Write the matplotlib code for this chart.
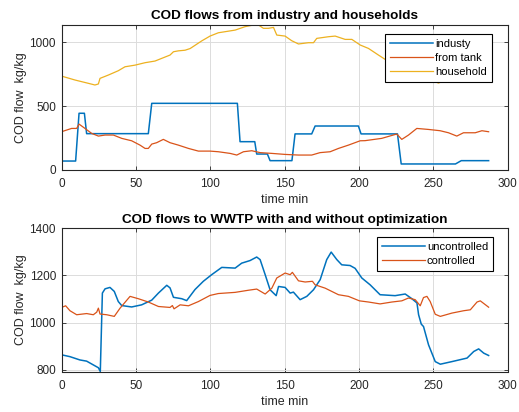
import matplotlib
matplotlib.use("Agg")
import matplotlib.pyplot as plt

plt.rcParams['font.family'] = ['Liberation Sans', 'DejaVu Sans']

# ---- top panel data ----
ind_t = [0, 9.5, 11.8, 15.4, 16.9, 58.4, 60.7, 118.3, 120.1, 130, 131.3, 138.5, 140.3,
         155, 157.1, 168.3, 170.6, 199.7, 201.5, 226, 228.5, 265, 268.9, 287.3]
ind_v = [68, 68, 443, 443, 283, 283, 521, 521, 220, 220, 123, 123, 71,
         71, 281, 281, 343, 343, 281, 281, 45, 45, 71, 71]

tank_t = [0, 6.8, 10.2, 11.8, 15.8, 20.3, 24.8, 29.3, 34.9, 40.5, 47.2, 52.8, 56.2, 58.4,
          60.7, 64, 68.5, 73, 78.6, 85.4, 92.1, 99.9, 105.5, 113.4, 117.9, 122.4, 128,
          133.6, 141.5, 150.4, 159.4, 168.3, 173.9, 180.7, 186.3, 193, 200.9, 204.2,
          215.4, 225.5, 228.9, 233.4, 239, 246.9, 254.7, 260.3, 265.9, 270.4, 278.3,
          282.8, 287.3]
tank_v = [298, 324, 324, 358, 324, 285, 264, 272, 272, 246, 227, 193, 167, 167,
          201, 212, 238, 212, 193, 167, 146, 146, 141, 128, 115, 141, 149,
          134, 128, 120, 115, 115, 134, 141, 167, 193, 227, 228,
          246, 280, 238, 272, 324, 316, 306, 290, 264, 290, 290,
          306, 298]

hh_t = [0, 9.1, 18.1, 22.5, 24.8, 25.9, 31.5, 38.2, 42.7, 49.5, 56.2, 62.9, 67.4, 73,
        75.3, 78.6, 83.1, 86.5, 94.3, 99.9, 105.5, 116.8, 123.5, 129.1, 132.5, 135.8,
        139.2, 142.6, 144.8, 150.4, 154.8, 159.4, 166.1, 169.5, 171.7, 179.6, 184.1,
        190.8, 195.3, 200.9, 206.5, 213.2, 217.7, 222.2, 235, 245, 253.6, 260, 270,
        280, 287.3]
hh_v = [735, 704, 678, 665, 673, 717, 743, 777, 808, 821, 840, 853, 874, 900,
        926, 933, 938, 951, 1011, 1049, 1075, 1096, 1123, 1136, 1136, 1110,
        1110, 1117, 1057, 1049, 1013, 987, 997, 997, 1031, 1044, 1049,
        1023, 1023, 979, 952, 900, 866, 866, 790, 720, 680, 715, 750,
        770, 785]

# ---- bottom panel data ----
unc_t = [0, 5.7, 12.4, 16.9, 21.4, 24.8, 26.1, 27.5, 29.3, 32.6, 35.5, 38.2, 40.5, 47.2,
         53.9, 60.7, 65.2, 70.8, 73, 75.3, 80.9, 84.2, 89.8, 95.4, 101, 107.8, 116.8,
         121.2, 126.8, 131.3, 133.6, 137, 140.3, 144.4, 146, 150.4, 153.8, 156, 160.5,
         165, 169.5, 174, 178.4, 181.4, 185.2, 188.5, 194.1, 197.5, 202, 207.6, 214.3,
         224.4, 231.2, 235.7, 239.1, 240.2, 242, 243.5, 246.9, 251.4, 254.8, 262.6,
         269.4, 272.8, 277.3, 280.6, 284, 287.3]
unc_v = [863, 855, 841, 836, 820, 808, 792, 1125, 1143, 1149, 1132, 1089, 1072, 1066,
         1075, 1095, 1125, 1158, 1147, 1107, 1101, 1093, 1140, 1175, 1203, 1234, 1231,
         1252, 1263, 1278, 1267, 1203, 1139, 1114, 1153, 1149, 1125, 1129, 1097,
         1111, 1139, 1182, 1267, 1299, 1267, 1245, 1242, 1230, 1189, 1160, 1118,
         1114, 1121, 1101, 1083, 1033, 993, 983, 905, 834, 823, 834,
         844, 849, 877, 888, 870, 860]

ctl_t = [0, 2.8, 5.7, 10.2, 16.9, 21.4, 23.7, 24.8, 25.9, 30.4, 35.5, 39.4, 46.1, 51.7,
         58.4, 65.2, 73, 74.6, 75.7, 79.8, 85.4, 92.1, 99.9, 105.5, 116.8, 125.7, 131.3,
         137, 141.5, 144.8, 150.4, 153.8, 155.3, 159.4, 163.9, 168.8, 170.6, 177.3,
         186.3, 193, 200.4, 206.5, 214.3, 222.2, 228.9, 233.4, 237.9, 241.3, 243.5,
         245.8, 248, 251.4, 254.8, 262.6, 270.5, 275, 279.5, 281.7, 287.3]
ctl_v = [1064, 1071, 1050, 1033, 1038, 1033, 1044, 1061, 1036, 1033, 1026, 1061, 1111, 1101,
         1087, 1068, 1064, 1072, 1058, 1075, 1071, 1089, 1115, 1123, 1128, 1137, 1142,
         1121, 1146, 1189, 1210, 1203, 1213, 1177, 1172, 1175, 1160, 1146,
         1118, 1111, 1092, 1087, 1079, 1087, 1092, 1104, 1097, 1071, 1106,
         1111, 1089, 1035, 1026, 1040, 1050, 1054, 1087, 1092, 1065]

xticks = [0, 50, 100, 150, 200, 250, 300]
top_yticks = [0, 500, 1000]
bot_yticks = [800, 1000, 1200, 1400]

C_BLUE = '#0072BD'
C_ORANGE = '#D95319'
C_YELLOW = '#EDB120'
EDGE = '#262626'

fig = plt.figure(figsize=(5.19, 4.12), dpi=100)
ax1 = fig.add_axes([61.5/519, (412-169.7)/412, 446/519, 144.7/412])
ax2 = fig.add_axes([61.5/519, (412-371.5)/412, 446/519, 143.2/412])


def style(ax):
    ax.set_xlim(0, 300)
    ax.set_xticks(xticks)
    ax.grid(True, color='#dcdcdc', linewidth=0.7)
    ax.set_axisbelow(True)
    for s in ax.spines.values():
        s.set_color(EDGE)
        s.set_linewidth(0.8)
    ax.tick_params(direction='in', length=3, width=0.6, colors=EDGE, labelsize=8.5,
                   top=True, right=True)
    ax.tick_params(axis='x', pad=6)
    ax.tick_params(axis='y', pad=4)
    ax.set_xlabel('time min', fontsize=9, color=EDGE, labelpad=3)
    ax.set_ylabel('COD flow  kg/kg', fontsize=9, color=EDGE, labelpad=1.5)


def make_legend(ax, anchor):
    leg = ax.legend(loc='upper right', bbox_to_anchor=anchor, fontsize=8,
                    fancybox=False, framealpha=1, edgecolor='#000000', handlelength=3.9,
                    labelspacing=0.35, borderpad=0.45, handletextpad=0.15,
                    borderaxespad=0)
    leg.get_frame().set_linewidth(0.8)
    return leg


ax1.plot(ind_t, ind_v, color=C_BLUE, lw=1.1, label='industy')
ax1.plot(tank_t, tank_v, color=C_ORANGE, lw=0.9, label='from tank')
ax1.plot(hh_t, hh_v, color=C_YELLOW, lw=0.9, label='household')
ax1.set_ylim(0, 1136)
ax1.set_yticks(top_yticks)
style(ax1)
ax1.set_title('COD flows from industry and households', fontsize=9.7,
              fontweight='bold', pad=4)
make_legend(ax1, (0.9646, 0.938))

ax2.plot(unc_t, unc_v, color=C_BLUE, lw=1.1, label='uncontrolled')
ax2.plot(ctl_t, ctl_v, color=C_ORANGE, lw=0.9, label='controlled')
ax2.set_ylim(792, 1400)
ax2.set_yticks(bot_yticks)
style(ax2)
ax2.set_title('COD flows to WWTP with and without optimization', fontsize=9.7,
              fontweight='bold', pad=4)
make_legend(ax2, (0.968, 0.941))

fig.savefig('out.png', dpi=100)
